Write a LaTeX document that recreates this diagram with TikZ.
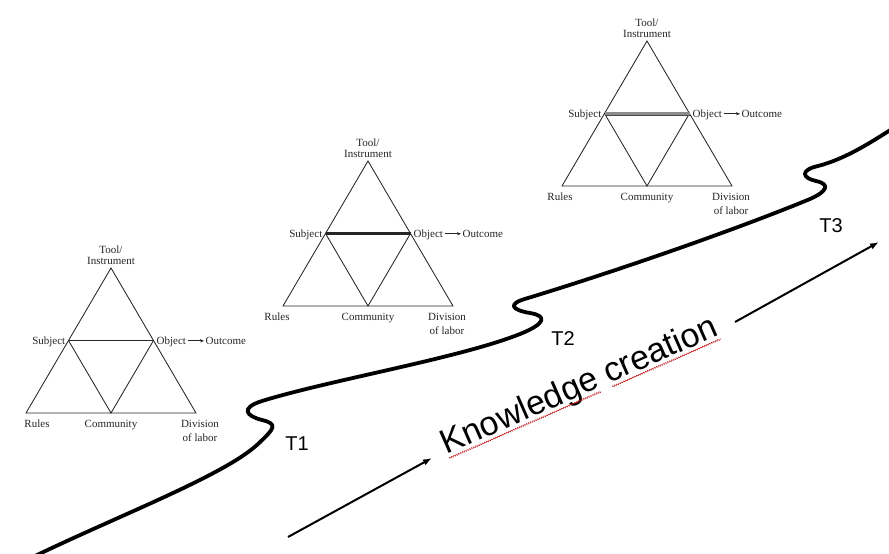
\documentclass[tikz,border=0pt]{standalone}
\usepackage{fontspec}
\setmainfont{Liberation Serif}
\newfontfamily\arialfont{Liberation Sans}
\usetikzlibrary{arrows.meta,decorations.pathmorphing,calc}
\tikzset{
  tri/.style={draw=black!85, line width=0.85pt, line join=miter},
  lbl/.style={font=\fontsize{11}{11}\selectfont, text=black!85, inner sep=0pt},
  midthin/.style={draw=black!85, line width=0.85pt},
  midthick/.style={draw=black!85, line width=2.6pt},
  midgray/.style={draw=black!70, line width=0.7pt, double=black!45, double distance=2.6pt},
  outarrow/.style={draw=black!85, line width=0.7pt, -{Stealth[length=4pt,width=3.2pt]}},
  journey/.style={draw=black, line width=3.8pt, line cap=round, line join=round},
  kcarrow/.style={draw=black, line width=2pt, -{Latex[length=9pt,width=6.5pt]}},
  tlabel/.style={font=\arialfont\fontsize{20}{20}\selectfont, inner sep=0pt},
  kctext/.style={font=\arialfont\fontsize{34}{34}\selectfont, inner sep=0pt},
  squiggle/.style={draw=red!75!black, line width=0.45pt, decorate,
    decoration={snake, amplitude=0.7pt, segment length=2.4pt}},
}
% #1 prefix, #2 #3 bottom-left, #4 middle line style, #5 Rules x, #6 Division x
\newcommand{\actri}[6]{%
 \begin{scope}[shift={(#2,#3)}]
  \coordinate (#1bl) at (0,0);
  \coordinate (#1br) at (170,0);
  \coordinate (#1ap) at (85,-145);
  \coordinate (#1su) at (42.5,-72.5);
  \coordinate (#1ob) at (127.5,-72.5);
  \coordinate (#1co) at (85,0);
  \draw[tri] (#1bl) -- (#1br) -- (#1ap) -- cycle;
  \draw[tri] (#1su) -- (#1co) -- (#1ob);
  \draw[#4] (#1su) -- (#1ob);
  \node[lbl, anchor=base] (#1tool) at (85,-159.5) {Tool/};
  \node[lbl, anchor=base] (#1inst) at (85,-149) {Instrument};
  \node[lbl, anchor=base east] (#1subj) at (39.5,-69) {Subject};
  \node[lbl, anchor=base west] (#1obj) at (130.5,-69) {Object};
  \node[lbl, anchor=base west] (#1out) at (179.5,-69) {Outcome};
  \draw[outarrow] ($(#1obj.base east)+(1.5,-3.2)$) -- ($(#1out.base west)+(-1.5,-3.2)$);
  \node[lbl, anchor=base] (#1rul) at (#5,14.5) {Rules};
  \node[lbl, anchor=base] (#1com) at (85,14.5) {Community};
  \node[lbl, anchor=base] (#1div) at (#6,14.5) {Division};
  \node[lbl, anchor=base] (#1lab) at (#6,28.5) {of labor};
 \end{scope}}

\begin{document}
\begin{tikzpicture}[x=1pt,y=-1pt]
\fill[white] (0,0) rectangle (889,554);
\path[use as bounding box] (0,0) rectangle (889,554);

\actri{a}{26}{413}{midthin}{11}{174}
\actri{b}{283}{306}{midthick}{-6}{164}
\actri{c}{562}{186}{midgray}{-2}{169}

% growth line
\draw[journey] (35,556) .. controls (120,515) and (225,475) .. (258,444)
 .. controls (275,428) and (278,424) .. (262,420)
 .. controls (246,416) and (240,408) .. (262,401)
 .. controls (330,380) and (460,358) .. (520,334)
 .. controls (545,324) and (548,316) .. (530,313)
 .. controls (512,310) and (506,304) .. (528,298)
 .. controls (620,270) and (740,228) .. (810,199)
 .. controls (828,191) and (830,184) .. (816,181)
 .. controls (802,178) and (800,170) .. (818,166)
 .. controls (845,159) and (870,143) .. (895,127);

\node[tlabel] (t1) at (297,444) {T1};
\node[tlabel] (t2) at (563,339) {T2};
\node[tlabel] (t3) at (831,226) {T3};

% knowledge creation arrows
\coordinate (k1s) at (288,537);
\coordinate (k1e) at (432,458);
\coordinate (k2s) at (735,322);
\coordinate (k2e) at (879,242);
\draw[kcarrow] (k1s) -- (k1e);
\draw[kcarrow] (k2s) -- (k2e);

\begin{scope}[shift={(446.5,455)}, rotate=23.7]
  \node[kctext, anchor=base west, transform shape] (kc) at (0,0) {Knowledge creation};
  \draw[squiggle] (1,4) -- (167,4);
  \draw[squiggle] (179,4) -- (298,4);
\end{scope}
\end{tikzpicture}
\end{document}
